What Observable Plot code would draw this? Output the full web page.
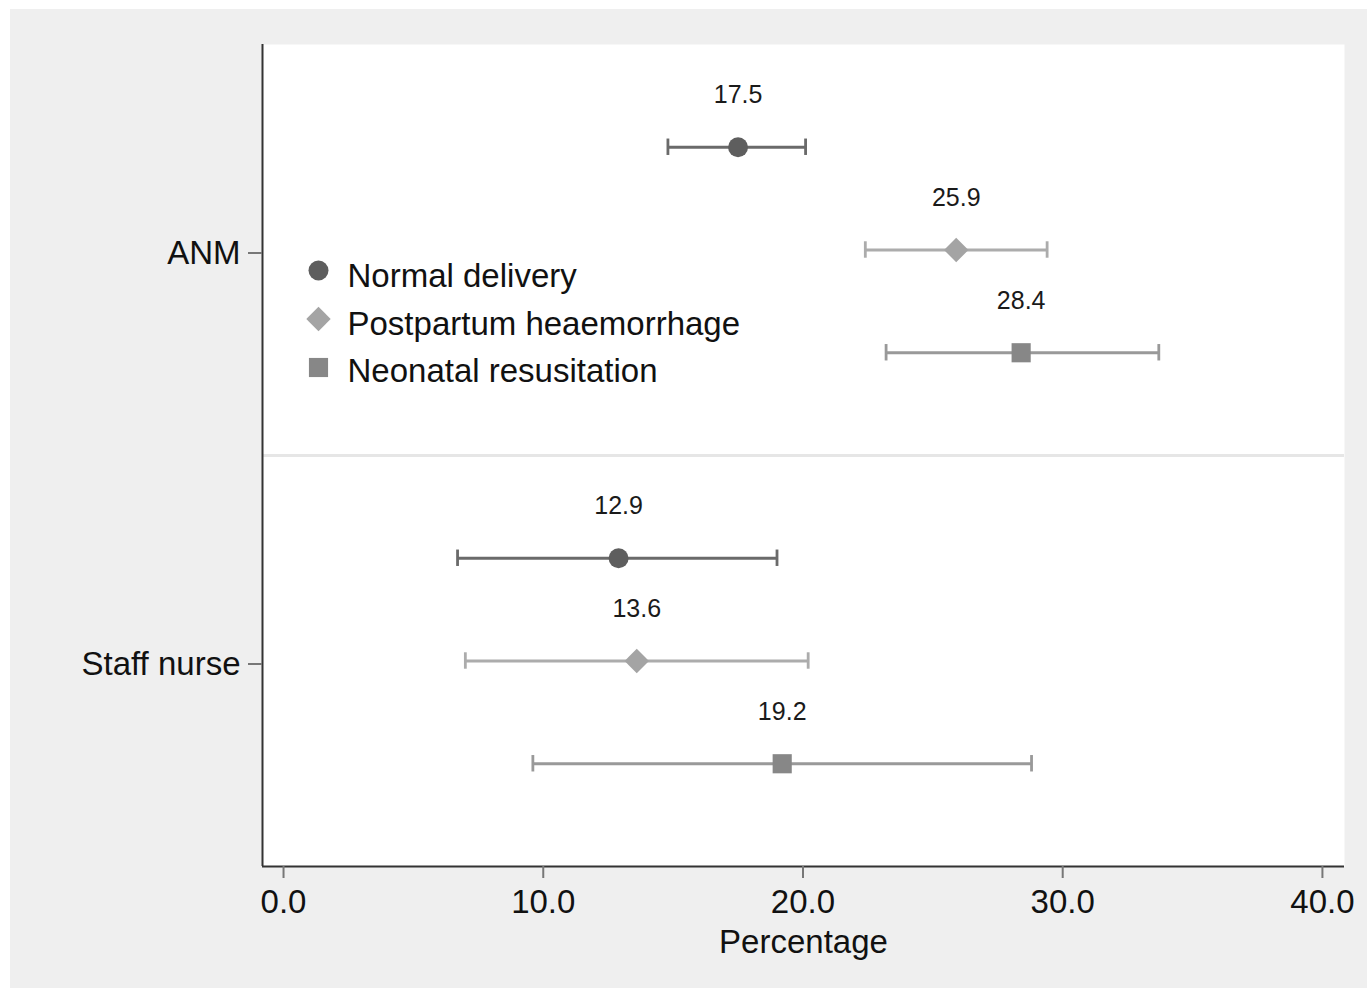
<!DOCTYPE html>
<html>
<head>
<meta charset="utf-8">
<script src="https://cdn.jsdelivr.net/npm/d3@7"></script>
<script src="https://cdn.jsdelivr.net/npm/@observablehq/plot@0.6"></script>
<style>
  html, body { margin: 0; padding: 0; background: #ffffff; }
  #chart { position: absolute; left: 10px; top: 9px; }
</style>
</head>
<body>
<div id="chart"></div>
<script>
// ---- data ----
const roles = ["ANM", "Staff nurse"];
const series = ["Normal delivery", "Postpartum heaemorrhage", "Neonatal resusitation"];
const anmEstimate = [17.5, 25.9, 28.4];
const anmLower    = [14.8, 22.4, 23.2];
const anmUpper    = [20.1, 29.4, 33.7];
const staffEstimate = [12.9, 13.6, 19.2];
const staffLower    = [6.7, 7.0, 9.6];
const staffUpper    = [19.0, 20.2, 28.8];
const xTicks = [0, 10, 20, 30, 40];

// ---- styling ----
const symbols = ["circle", "diamond2", "square"];
const markerColors = ["#5e5e5e", "#a4a4a4", "#878787"];
const lineColors = ["#6a6a6a", "#acacac", "#999999"];
const markerSizes = [10, 11, 10.8];
const font = "'Liberation Sans', Arial, Helvetica, sans-serif";

// ---- table ----
const estimates = [anmEstimate, staffEstimate];
const lowers = [anmLower, staffLower];
const uppers = [anmUpper, staffUpper];
const rows = [];
roles.forEach((role, r) => {
  series.forEach((s, i) => {
    rows.push({role, series: s, si: i, pos: r * 4 + i + 1,
      est: estimates[r][i], low: lowers[r][i], high: uppers[r][i]});
  });
});

const W = 1357, H = 979;
const mL = 252, mT = 35, mR = 23, mB = 122;
const xDomain = [-0.81, 40.85];
const yDomain = [0, 8];

const marks = [
  Plot.frame({fill: "white", stroke: null}),
  Plot.ruleY([4], {stroke: "#e6e6e6", strokeWidth: 3}),
];
series.forEach((s, i) => {
  const d = rows.filter(r => r.si === i);
  marks.push(
    Plot.ruleY(d, {y: "pos", x1: "low", x2: "high", stroke: lineColors[i], strokeWidth: 2.8}),
    Plot.ruleX(d, {x: "low", y1: r => r.pos - 0.08, y2: r => r.pos + 0.08, stroke: lineColors[i], strokeWidth: 2.8}),
    Plot.ruleX(d, {x: "high", y1: r => r.pos - 0.08, y2: r => r.pos + 0.08, stroke: lineColors[i], strokeWidth: 2.8}),
    Plot.dot(d, {x: "est", y: "pos", symbol: symbols[i], fill: markerColors[i], r: markerSizes[i], stroke: null}),
    Plot.text(d, {x: "est", y: "pos", text: r => r.est.toFixed(1), dy: -52, fontSize: 25, fill: "#1a1a1a"}),
    // legend
    Plot.dot([s], {frameAnchor: "top-left", dx: 56, dy: 226 + i * 48.5, symbol: symbols[i], fill: markerColors[i], r: markerSizes[i], stroke: null}),
    Plot.text([s], {text: d => d, frameAnchor: "top-left", dx: 85, dy: 232 + i * 47.5, textAnchor: "start", lineAnchor: "middle",
      fontSize: 33, fill: "#111", letterSpacing: "0.4px"})
  );
});
marks.push(
  Plot.ruleX([xDomain[0]], {stroke: "#333", strokeWidth: 2}),
  Plot.ruleY([yDomain[1]], {stroke: "#333", strokeWidth: 2}),
  Plot.axisX({ticks: xTicks, tickFormat: d => d.toFixed(1), tickSize: 12, tickPadding: 11, stroke: "#777", strokeWidth: 2,
    fontSize: 33, fill: "#111", label: "Percentage", labelAnchor: "center", labelArrow: "none", labelOffset: 86}),
  Plot.axisY({ticks: [2, 6], tickFormat: d => roles[(d - 2) / 4], tickSize: 14, tickPadding: 8, stroke: "#777", strokeWidth: 2,
    fontSize: 33, fill: "#111", label: null, dy: 3})
);

const chart = Plot.plot({
  width: W, height: H,
  marginLeft: mL, marginTop: mT, marginRight: mR, marginBottom: mB,
  x: {domain: xDomain},
  y: {domain: yDomain, reverse: true},
  style: {background: "#efefef", fontFamily: font, color: "#111", overflow: "visible"},
  marks
});
document.getElementById("chart").appendChild(chart);
</script>
</body>
</html>
